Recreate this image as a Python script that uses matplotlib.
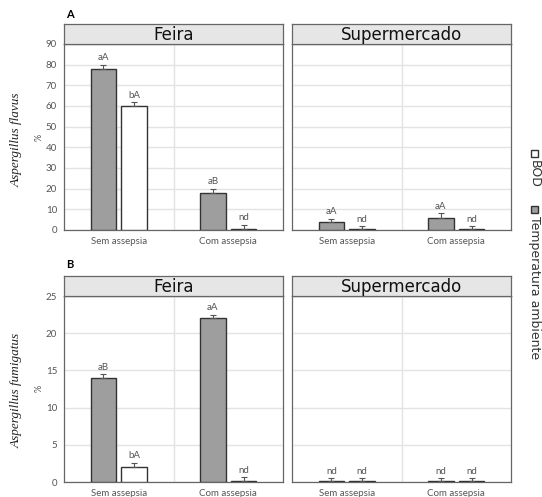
import matplotlib
matplotlib.use('Agg')
import numpy as np
import matplotlib.pyplot as plt
from matplotlib.patches import Rectangle

# data
categorias = ['Sem assepsia', 'Com assepsia']
locais = ['Feira', 'Supermercado']

# Aspergillus flavus (A)
flavus_temp = {'Feira': [78, 18], 'Supermercado': [4, 6]}
flavus_temp_err = {'Feira': [2, 2], 'Supermercado': [1.5, 2]}
flavus_bod = {'Feira': [60, 0.6], 'Supermercado': [0.6, 0.6]}
flavus_bod_err = {'Feira': [2, 2], 'Supermercado': [1.2, 1.2]}
flavus_lab_temp = {'Feira': ['aA', 'aB'], 'Supermercado': ['aA', 'aA']}
flavus_lab_bod = {'Feira': ['bA', 'nd'], 'Supermercado': ['nd', 'nd']}

# Aspergillus fumigatus (B)
fumi_temp = {'Feira': [14, 22], 'Supermercado': [0.15, 0.15]}
fumi_temp_err = {'Feira': [0.5, 0.5], 'Supermercado': [0.4, 0.4]}
fumi_bod = {'Feira': [2, 0.15], 'Supermercado': [0.15, 0.15]}
fumi_bod_err = {'Feira': [0.6, 0.5], 'Supermercado': [0.4, 0.4]}
fumi_lab_temp = {'Feira': ['aB', 'aA'], 'Supermercado': ['nd', 'nd']}
fumi_lab_bod = {'Feira': ['bA', 'nd'], 'Supermercado': ['nd', 'nd']}

W, H = 542, 497
fig = plt.figure(figsize=(W / 100, H / 100), dpi=100)

cinza = '#9e9e9e'
borda = '#333333'
txtcor = '#555555'
fonte = 'Lato'


def painel(px, py_top, py_bot, local, temp, temp_err, bod, bod_err, lt, lb, ylim, yticks, showy):
    ax = fig.add_axes([px / W, 1 - py_bot / H, 219 / W, (py_bot - py_top) / H])
    x = np.arange(1, len(categorias) + 1)
    off = 0.14
    bw = 0.23
    ax.bar(x - off, temp[local], bw, color=cinza, edgecolor=borda, linewidth=1.0, zorder=3)
    ax.bar(x + off, bod[local], bw, color='white', edgecolor=borda, linewidth=1.0, zorder=3)
    ax.errorbar(x - off, temp[local], yerr=[np.zeros(2), temp_err[local]], fmt='none',
                ecolor='#555555', elinewidth=0.8, capsize=2.5, capthick=0.8, zorder=4)
    ax.errorbar(x + off, bod[local], yerr=[np.zeros(2), bod_err[local]], fmt='none',
                ecolor='#555555', elinewidth=0.8, capsize=2.5, capthick=0.8, zorder=4)
    dy = ylim * 0.012
    for i in range(len(x)):
        ax.text(x[i] - off, temp[local][i] + temp_err[local][i] + dy, lt[local][i],
                ha='center', va='bottom', fontsize=7, color=txtcor, family=fonte)
        ax.text(x[i] + off, bod[local][i] + bod_err[local][i] + dy, lb[local][i],
                ha='center', va='bottom', fontsize=7, color=txtcor, family=fonte)
    ax.set_xlim(0.5, 2.5)
    ax.set_ylim(0, ylim)
    ax.set_yticks(yticks)
    ax.set_xticks(x)
    ax.set_xticklabels(categorias, fontsize=7, color=txtcor, family=fonte)
    ax.tick_params(axis='both', length=0, pad=5)
    ax.tick_params(axis='y', labelsize=7, labelcolor=txtcor)
    for t in ax.get_yticklabels():
        t.set_family(fonte)
    if not showy:
        ax.set_yticklabels([])
    ax.grid(axis='y', color='#e3e3e3', linewidth=1.0, zorder=0)
    ax.axvline(1.5, color='#e3e3e3', linewidth=1.0, zorder=0)
    for s in ax.spines.values():
        s.set_color('#666666')
        s.set_linewidth(0.9)
    # strip
    st = fig.add_axes([px / W, 1 - py_top / H, 219 / W, 20 / H])
    st.set_facecolor('#e6e6e6')
    st.set_xticks([])
    st.set_yticks([])
    for s in st.spines.values():
        s.set_color('#666666')
        s.set_linewidth(0.9)
    st.text(0.5, 0.45, local, ha='center', va='center', fontsize=12, color='#111111',
            family='DejaVu Sans', transform=st.transAxes)
    return ax


for loc, px, show in [('Feira', 64, True), ('Supermercado', 292, False)]:
    painel(px, 44, 230, loc, flavus_temp, flavus_temp_err, flavus_bod, flavus_bod_err,
           flavus_lab_temp, flavus_lab_bod, 90, np.arange(0, 91, 10), show)
    painel(px, 296, 482, loc, fumi_temp, fumi_temp_err, fumi_bod, fumi_bod_err,
           fumi_lab_temp, fumi_lab_bod, 25, np.arange(0, 26, 5), show)

fig.text(66 / W, 1 - 14 / H, 'A', fontsize=8, fontweight='bold', ha='left', va='center', family=fonte)
fig.text(66 / W, 1 - 265 / H, 'B', fontsize=8, fontweight='bold', ha='left', va='center', family=fonte)

fig.text(17 / W, 1 - 140 / H, 'Aspergillus flavus', rotation=90, style='italic', fontsize=9.5,
         family='Liberation Serif', ha='center', va='center', color='#222222')
fig.text(39 / W, 1 - 137 / H, '%', rotation=90, fontsize=6.5, family=fonte,
         ha='center', va='center', color=txtcor)
fig.text(17 / W, 1 - 390 / H, 'Aspergillus fumigatus', rotation=90, style='italic', fontsize=9.5,
         family='Liberation Serif', ha='center', va='center', color='#222222')
fig.text(39 / W, 1 - 388 / H, '%', rotation=90, fontsize=6.5, family=fonte,
         ha='center', va='center', color=txtcor)

# legend (rotated)
for yy, fc, lab in [(153, 'white', 'BOD'), (209, cinza, 'Temperatura ambiente')]:
    fig.patches.append(Rectangle(((534 - 3.5) / W, 1 - (yy + 3.5) / H), 7 / W, 7 / H,
                                 facecolor=fc, edgecolor=borda, linewidth=1.0,
                                 transform=fig.transFigure, figure=fig))
    fig.text(534 / W, 1 - (yy + 7) / H, lab, rotation=270, fontsize=9, family='DejaVu Sans',
             ha='center', va='top', color='#333333')

fig.savefig('out.png', dpi=100)
